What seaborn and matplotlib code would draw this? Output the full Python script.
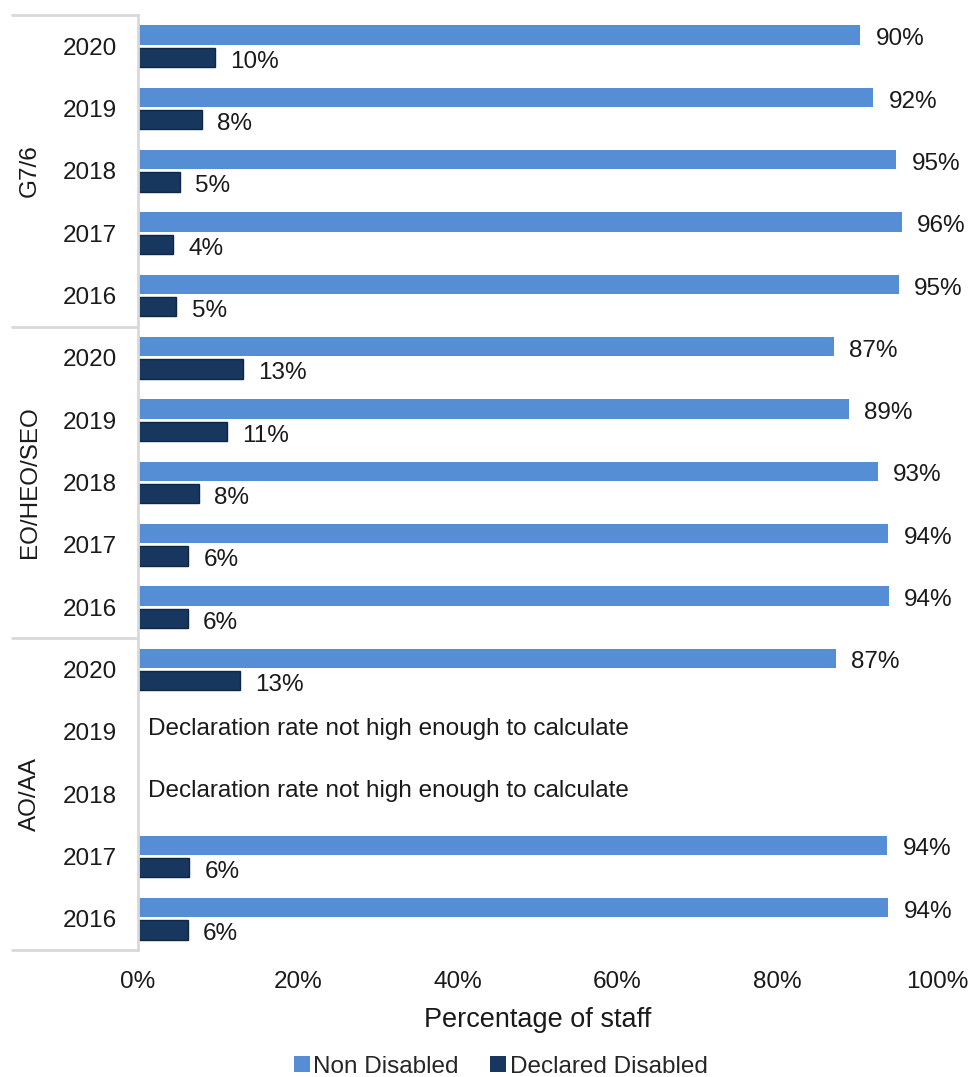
import numpy as np
import pandas as pd
import matplotlib
matplotlib.use('Agg')
import matplotlib.pyplot as plt
import matplotlib.transforms as mtransforms
import seaborn as sns

# ------------------------------------------------------------
# data
# ------------------------------------------------------------
groups = ['G7/6', 'EO/HEO/SEO', 'AO/AA']
years = ['2020', '2019', '2018', '2017', '2016']
series = ['Non Disabled', 'Declared Disabled']

non_disabled_g76 = [90.4, 92.0, 94.9, 95.6, 95.2]
disabled_g76 = [9.6, 8.0, 5.2, 4.4, 4.8]
non_disabled_eo = [87.1, 89.0, 92.6, 93.9, 94.0]
disabled_eo = [13.1, 11.1, 7.6, 6.3, 6.2]
non_disabled_ao = [87.3, np.nan, np.nan, 93.8, 93.9]
disabled_ao = [12.8, np.nan, np.nan, 6.4, 6.2]

missing_note = 'Declaration rate not high enough to calculate'
colors = ['#558ED5', '#17375E']

# build long table
records = []
row_order = []
for g, nd, dd in zip(groups,
                     [non_disabled_g76, non_disabled_eo, non_disabled_ao],
                     [disabled_g76, disabled_eo, disabled_ao]):
    for y, a, b in zip(years, nd, dd):
        key = f'{g} {y}'
        row_order.append(key)
        if not np.isnan(a):
            records.append({'row': key, 'status': series[0], 'value': a})
            records.append({'row': key, 'status': series[1], 'value': b})
df = pd.DataFrame(records)

# ------------------------------------------------------------
# plot
# ------------------------------------------------------------
sns.set_theme(style='white')
plt.rcParams['font.family'] = ['Liberation Sans', 'DejaVu Sans']
fs = 17.5
txt = '#1a1a1a'

fig = plt.figure(figsize=(9.7, 10.77), dpi=100)
ax = fig.add_axes([0.1423, 0.1179, 0.8237, 0.8681])

sns.barplot(data=df, y='row', x='value', hue='status', orient='h',
            order=row_order, hue_order=series, palette=colors, saturation=1,
            width=0.72, gap=0.14, linewidth=0, errorbar=None, ax=ax)

for patch in ax.containers[1]:
    patch.set_edgecolor('#0E2746')
    patch.set_linewidth(1.0)

# value labels, nudged a little below the bar centre like the original
for c in ax.containers:
    for t in ax.bar_label(c, fmt='{:.0f}%', padding=11, fontsize=fs, color=txt):
        t.xyann = (11, -3)

ax.set_xlim(0, 100)
ax.set_ylim(len(row_order) - 0.5, -0.5)
ax.set_xticks(range(0, 101, 20))
ax.set_xticklabels([f'{t}%' for t in range(0, 101, 20)])
ax.set_yticks(range(len(row_order)))
ax.set_yticklabels(years * len(groups))
ax.tick_params(axis='x', length=0, pad=15, labelsize=fs, labelcolor=txt)
ax.tick_params(axis='y', length=0, pad=15, labelsize=fs, labelcolor=txt)
ax.set_xlabel('Percentage of staff', fontsize=19.5, labelpad=10, color=txt)
ax.set_ylabel('')

for side in ['top', 'right', 'bottom']:
    ax.spines[side].set_visible(False)
ax.spines['left'].set_color('#D9D9D9')
ax.spines['left'].set_linewidth(2)

# multi-level category axis: separators and group names
trans = mtransforms.blended_transform_factory(ax.transAxes, ax.transData)
n = len(years)
for i in range(len(groups) + 1):
    yb = i * n - 0.5
    ax.plot([-0.158, 0], [yb, yb], color='#D9D9D9', lw=2,
            transform=trans, clip_on=False)
for i, g in enumerate(groups):
    ax.text(-0.135, i * n + (n - 1) / 2, g, rotation=90, ha='center',
            va='center', fontsize=fs, color=txt, transform=trans)

# notes for rows without data
have_data = set(df['row'])
for i, key in enumerate(row_order):
    if key not in have_data:
        ax.text(1.3, i - 0.05, missing_note, ha='left', va='center',
                fontsize=fs, color=txt)

sns.move_legend(ax, 'center', bbox_to_anchor=(0.454, -0.125), ncol=2,
                frameon=False, title=None, fontsize=fs,
                handlelength=0.65, handleheight=0.65, handletextpad=0.15,
                columnspacing=1.3)

fig.savefig('out.png', dpi=100)
